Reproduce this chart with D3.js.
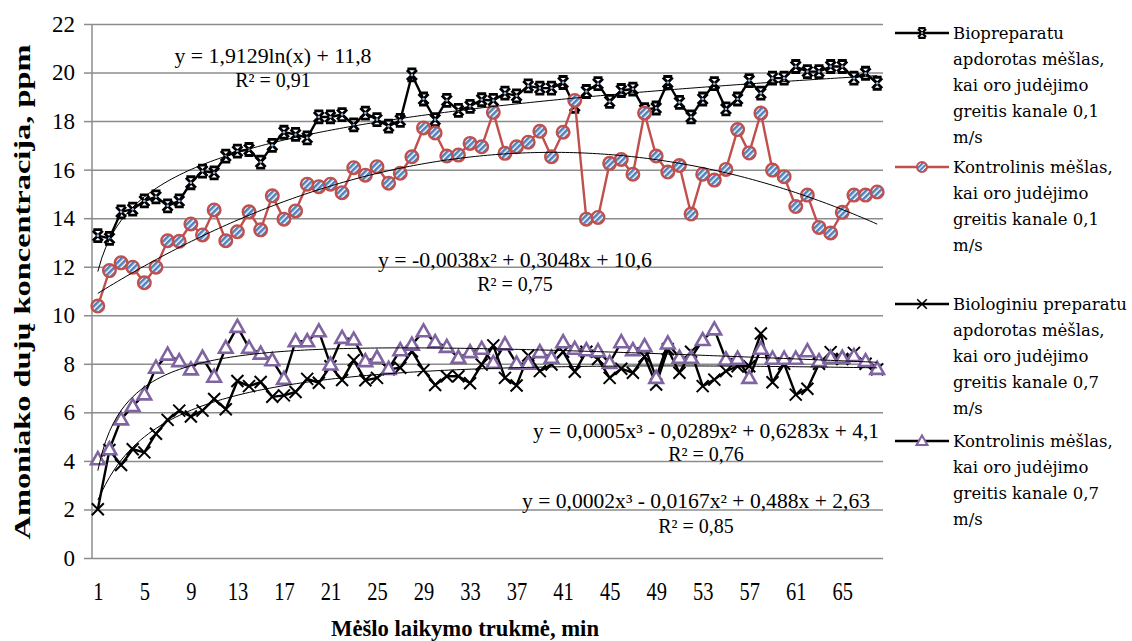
<!DOCTYPE html>
<html>
<head>
<meta charset="utf-8">
<script src="https://cdn.jsdelivr.net/npm/d3@7/dist/d3.min.js"></script>
<style>
  body { margin: 0; background: #fff; }
  svg { display: block; }
</style>
</head>
<body>
<svg id="chart" width="1132" height="641"></svg>
<script>
// Manure storage time, min (category axis)
const minutes = [1,2,3,4,5,6,7,8,9,10,11,12,13,14,15,16,17,18,19,20,21,22,23,24,25,26,27,28,29,30,31,32,33,34,
  35,36,37,38,39,40,41,42,43,44,45,46,47,48,49,50,51,52,53,54,55,56,57,58,59,60,61,62,63,64,65,66,67,68];

// Ammonia concentration, ppm — treated manure, air speed 0.1 m/s
const bioSlow = [13.28,13.17,14.26,14.37,14.71,14.88,14.51,14.71,15.46,15.94,15.87,16.56,16.76,16.83,16.31,17.0,
  17.54,17.45,17.31,18.17,18.17,18.27,17.84,18.33,18.06,17.79,18.03,19.9,18.91,18.06,18.85,18.44,18.61,18.88,
  18.85,19.15,19.04,19.45,19.36,19.36,19.59,18.61,19.22,19.54,18.81,19.26,19.32,18.47,18.54,19.59,18.77,18.17,
  18.91,19.54,18.5,18.91,19.67,19.15,19.77,19.77,20.25,20.04,20.04,20.25,20.25,19.77,19.97,19.56];

// Control manure, air speed 0.1 m/s
const controlSlow = [10.38,11.84,12.16,11.98,11.34,11.98,13.07,13.05,13.76,13.31,14.34,13.07,13.44,14.26,13.52,14.92,
  13.96,14.3,15.4,15.3,15.4,15.05,16.08,15.77,16.12,15.44,15.85,16.53,17.72,17.51,16.56,16.6,17.08,16.94,
  18.36,16.67,16.94,17.13,17.58,16.53,17.54,18.85,13.96,14.03,16.26,16.42,15.81,18.33,16.56,15.9,16.17,14.17,
  15.81,15.57,16.01,17.65,16.69,18.33,15.98,15.71,14.48,14.95,13.62,13.39,14.24,14.95,14.95,15.08];

// Treated manure, air speed 0.7 m/s
const bioFast = [2.01,4.45,3.83,4.48,4.35,5.12,5.69,6.07,5.83,6.07,6.55,6.13,7.29,7.08,7.25,6.64,
  6.7,6.84,7.38,7.22,7.9,7.33,8.15,7.32,7.42,7.77,7.84,8.52,7.74,7.13,7.49,7.49,7.2,7.97,
  8.76,7.42,7.11,8.34,7.7,7.97,8.5,7.67,8.5,8.2,7.42,7.8,7.63,8.3,7.15,8.6,7.63,8.5,
  7.08,7.35,7.7,7.9,7.9,9.25,7.24,8.0,6.73,6.97,8.0,8.48,8.2,8.45,8.0,7.77];

// Control manure, air speed 0.7 m/s
const controlFast = [4.07,4.48,5.71,6.26,6.74,7.84,8.38,8.11,7.77,8.25,7.47,8.66,9.52,8.66,8.42,8.15,
  7.38,8.93,8.93,9.34,7.97,9.07,9.0,8.11,8.25,7.79,8.56,8.79,9.34,8.89,8.7,8.25,8.48,8.62,
  8.04,8.8,8.01,8.01,8.48,8.25,8.89,8.62,8.56,8.52,8.04,8.89,8.56,8.73,7.42,8.84,8.25,8.25,
  8.98,9.42,8.18,8.21,7.42,8.62,8.21,8.21,8.21,8.52,8.11,8.25,8.25,8.32,8.11,7.79];

const yTicks = [0,2,4,6,8,10,12,14,16,18,20,22];
const xTickLabels = [1,5,9,13,17,21,25,29,33,37,41,45,49,53,57,61,65];

const legendLines = [
  ["Biopreparatu", "apdorotas mėšlas,", "kai oro judėjimo", "greitis kanale 0,1", "m/s"],
  ["Kontrolinis mėšlas,", "kai oro judėjimo", "greitis kanale 0,1", "m/s"],
  ["Biologiniu preparatu", "apdorotas mėšlas,", "kai oro judėjimo", "greitis kanale 0,7", "m/s"],
  ["Kontrolinis mėšlas,", "kai oro judėjimo", "greitis kanale 0,7", "m/s"]
];

const trendText = [
  ["y = 1,9129ln(x) + 11,8", "R² = 0,91"],
  ["y = -0,0038x² + 0,3048x + 10,6", "R² = 0,75"],
  ["y = 0,0002x³ - 0,0167x² + 0,488x + 2,63", "R² = 0,85"],
  ["y = 0,0005x³ - 0,0289x² + 0,6283x + 4,1", "R² = 0,76"]
];

(function drawChart() {
const SERIF = '"Liberation Serif", "Times New Roman", serif';
const LEGEND_FONT = '"DejaVu Serif", serif';
const svg = d3.select("#chart");
const plotL = 92, plotR = 883, plotT = 24, plotB = 558;

const x = d3.scalePoint().domain(minutes).range([plotL, plotR]).padding(0.5);
const xc = d3.scaleLinear().domain([minutes[0], minutes[minutes.length - 1]])
  .range([x(minutes[0]), x(minutes[minutes.length - 1])]);
const y = d3.scaleLinear().domain([0, 22]).range([plotB, plotT]);

// Gridlines with value labels
const gridAxis = svg.append("g").attr("transform", `translate(${plotL},0)`)
  .call(d3.axisLeft(y).tickValues(yTicks).tickSize(-(plotR - plotL)).tickPadding(17).tickFormat(d3.format("d")));
gridAxis.select(".domain").remove();
gridAxis.selectAll(".tick line").attr("stroke", "#8c8c8c").attr("stroke-width", 1.5);
gridAxis.selectAll(".tick text").attr("fill", "#000").style("font-size", "23px").style("font-family", SERIF);

// Outside tick marks
const tickAxis = svg.append("g").attr("transform", `translate(${plotL},0)`)
  .call(d3.axisLeft(y).tickValues(yTicks).tickSize(8).tickFormat(""));
tickAxis.select(".domain").remove();
tickAxis.selectAll(".tick line").attr("stroke", "#8c8c8c").attr("stroke-width", 1.5);

svg.append("line").attr("x1", plotL).attr("x2", plotL).attr("y1", plotT).attr("y2", plotB)
  .attr("stroke", "#8c8c8c").attr("stroke-width", 1.5);

// Category labels (narrow setting)
const xAxis = svg.append("g").attr("transform", `translate(0,${plotB})`)
  .call(d3.axisBottom(x).tickValues(xTickLabels).tickSize(0).tickPadding(24));
xAxis.select(".domain").remove();
xAxis.selectAll(".tick text").attr("fill", "#000").attr("transform", "scale(0.82,1)")
  .style("font-size", "25px").style("font-family", SERIF);

// Axis titles
svg.append("text")
  .attr("transform", "translate(30,292) rotate(-90)")
  .attr("text-anchor", "middle")
  .attr("textLength", 495).attr("lengthAdjust", "spacingAndGlyphs")
  .style("font-family", SERIF).style("font-size", "23px").style("font-weight", "bold")
  .text("Amoniako dujų koncentracija, ppm");

svg.append("text")
  .attr("x", 465).attr("y", 636)
  .attr("text-anchor", "middle")
  .attr("textLength", 268).attr("lengthAdjust", "spacingAndGlyphs")
  .style("font-family", SERIF).style("font-size", "24px").style("font-weight", "bold")
  .text("Mėšlo laikymo trukmė, min");

// Striped fill for the circle markers
const defs = svg.append("defs");
const pat = defs.append("pattern").attr("id", "stripes")
  .attr("patternUnits", "userSpaceOnUse").attr("width", 4).attr("height", 4)
  .attr("patternTransform", "rotate(45)");
pat.append("rect").attr("width", 4).attr("height", 4).attr("fill", "#ffffff");
pat.append("rect").attr("width", 2.6).attr("height", 4).attr("fill", "#4f81bd");

const markers = {
  star: g => { g.append("path").attr("d", "M-5,-5L5,5M-5,5L5,-5M-4.5,-6L4.5,-6M-4.5,6L4.5,6")
    .attr("stroke", "#000").attr("stroke-width", 2.8).attr("fill", "none");
    g.append("circle").attr("r", 1.3).attr("fill", "#8fb6e6"); },
  circle: g => g.append("circle").attr("r", 6.3).attr("fill", "url(#stripes)")
    .attr("stroke", "#c0504d").attr("stroke-width", 2.4),
  cross: g => g.append("path").attr("d", "M-6,-6L6,6M-6,6L6,-6")
    .attr("stroke", "#000").attr("stroke-width", 2).attr("fill", "none"),
  triangle: g => g.append("path").attr("d", "M0,-7L6.8,5L-6.8,5Z")
    .attr("stroke", "#8064a2").attr("stroke-width", 2.6).attr("fill", "#fff")
};

const series = [
  { values: bioSlow, color: "#000", marker: "star" },
  { values: controlSlow, color: "#c0504d", marker: "circle" },
  { values: bioFast, color: "#000", marker: "cross" },
  { values: controlFast, color: "#000", marker: "triangle" }
];

const line = d3.line().x((d, i) => x(minutes[i])).y(d => y(d));

series.forEach(s => {
  const g = svg.append("g");
  g.append("path").datum(s.values).attr("d", line)
    .attr("fill", "none").attr("stroke", s.color).attr("stroke-width", 2.4)
    .attr("stroke-linejoin", "round");
  g.selectAll("g.m").data(s.values).join("g").attr("class", "m")
    .attr("transform", (d, i) => `translate(${x(minutes[i])},${y(d)})`)
    .each(function () { markers[s.marker](d3.select(this)); });
});

// Least-squares cubic fit in ln(x), solved by Gauss-Jordan elimination
function logCubicFit(xs, ys) {
  const n = 4;
  const A = Array.from({ length: n }, () => new Array(n + 1).fill(0));
  xs.forEach((xv, k) => {
    const t = Math.log(xv);
    for (let r = 0; r < n; r++) {
      for (let c = 0; c < n; c++) A[r][c] += Math.pow(t, r + c);
      A[r][n] += ys[k] * Math.pow(t, r);
    }
  });
  for (let p = 0; p < n; p++) {
    let best = p;
    for (let r = p + 1; r < n; r++) if (Math.abs(A[r][p]) > Math.abs(A[best][p])) best = r;
    [A[p], A[best]] = [A[best], A[p]];
    for (let r = 0; r < n; r++) {
      if (r === p) continue;
      const f = A[r][p] / A[p][p];
      for (let c = p; c <= n; c++) A[r][c] -= f * A[p][c];
    }
  }
  const coef = A.map((row, i) => row[n] / row[i]);
  return xv => coef.reduce((acc, c, i) => acc + c * Math.pow(Math.log(xv), i), 0);
}

const trendFns = [
  xv => 1.9129 * Math.log(xv) + 11.8,
  xv => -0.0038 * xv * xv + 0.3048 * xv + 10.6,
  logCubicFit(minutes, bioFast),
  logCubicFit(minutes, controlFast)
];

const xMin = minutes[0], xMax = minutes[minutes.length - 1];
const samples = d3.range(0, 201).map(k => xMin + (xMax - xMin) * k / 200);
trendFns.forEach(f => {
  svg.append("path")
    .datum(samples)
    .attr("d", d3.line().x(xv => xc(xv)).y(xv => y(f(xv))))
    .attr("fill", "none").attr("stroke", "#000").attr("stroke-width", 1);
});

// Trendline equations
const trendPos = [
  { cx: 273, y1: 63, y2: 87, w: 197 },
  { cx: 515, y1: 267, y2: 291, w: 274 },
  { cx: 696, y1: 508, y2: 533, w: 348 },
  { cx: 706, y1: 438, y2: 461, w: 346 }
];
trendText.forEach((t, i) => {
  const p = trendPos[i];
  svg.append("text").attr("x", p.cx).attr("y", p.y1).attr("text-anchor", "middle")
    .attr("textLength", p.w).attr("lengthAdjust", "spacingAndGlyphs")
    .attr("fill", "#000").style("font-family", SERIF).style("font-size", "20px").text(t[0]);
  svg.append("text").attr("x", p.cx).attr("y", p.y2).attr("text-anchor", "middle")
    .attr("fill", "#000").style("font-family", SERIF).style("font-size", "20px").text(t[1]);
});

// Legend
const legendTop = [33, 167, 304, 441];
const lineGap = 26;
series.forEach((s, i) => {
  const g = svg.append("g").attr("transform", `translate(0,${legendTop[i]})`);
  g.append("line").attr("x1", 895).attr("x2", 949).attr("y1", 0).attr("y2", 0)
    .attr("stroke", s.color).attr("stroke-width", 2.4);
  const m = g.append("g").attr("transform", "translate(922,0) scale(0.8)");
  markers[s.marker](m);
  legendLines[i].forEach((txt, j) => {
    g.append("text")
      .attr("x", 953).attr("y", j * lineGap + 6)
      .attr("fill", "#000").style("font-family", LEGEND_FONT).style("font-size", "16.5px").text(txt);
  });
});
})();
</script>
</body>
</html>
